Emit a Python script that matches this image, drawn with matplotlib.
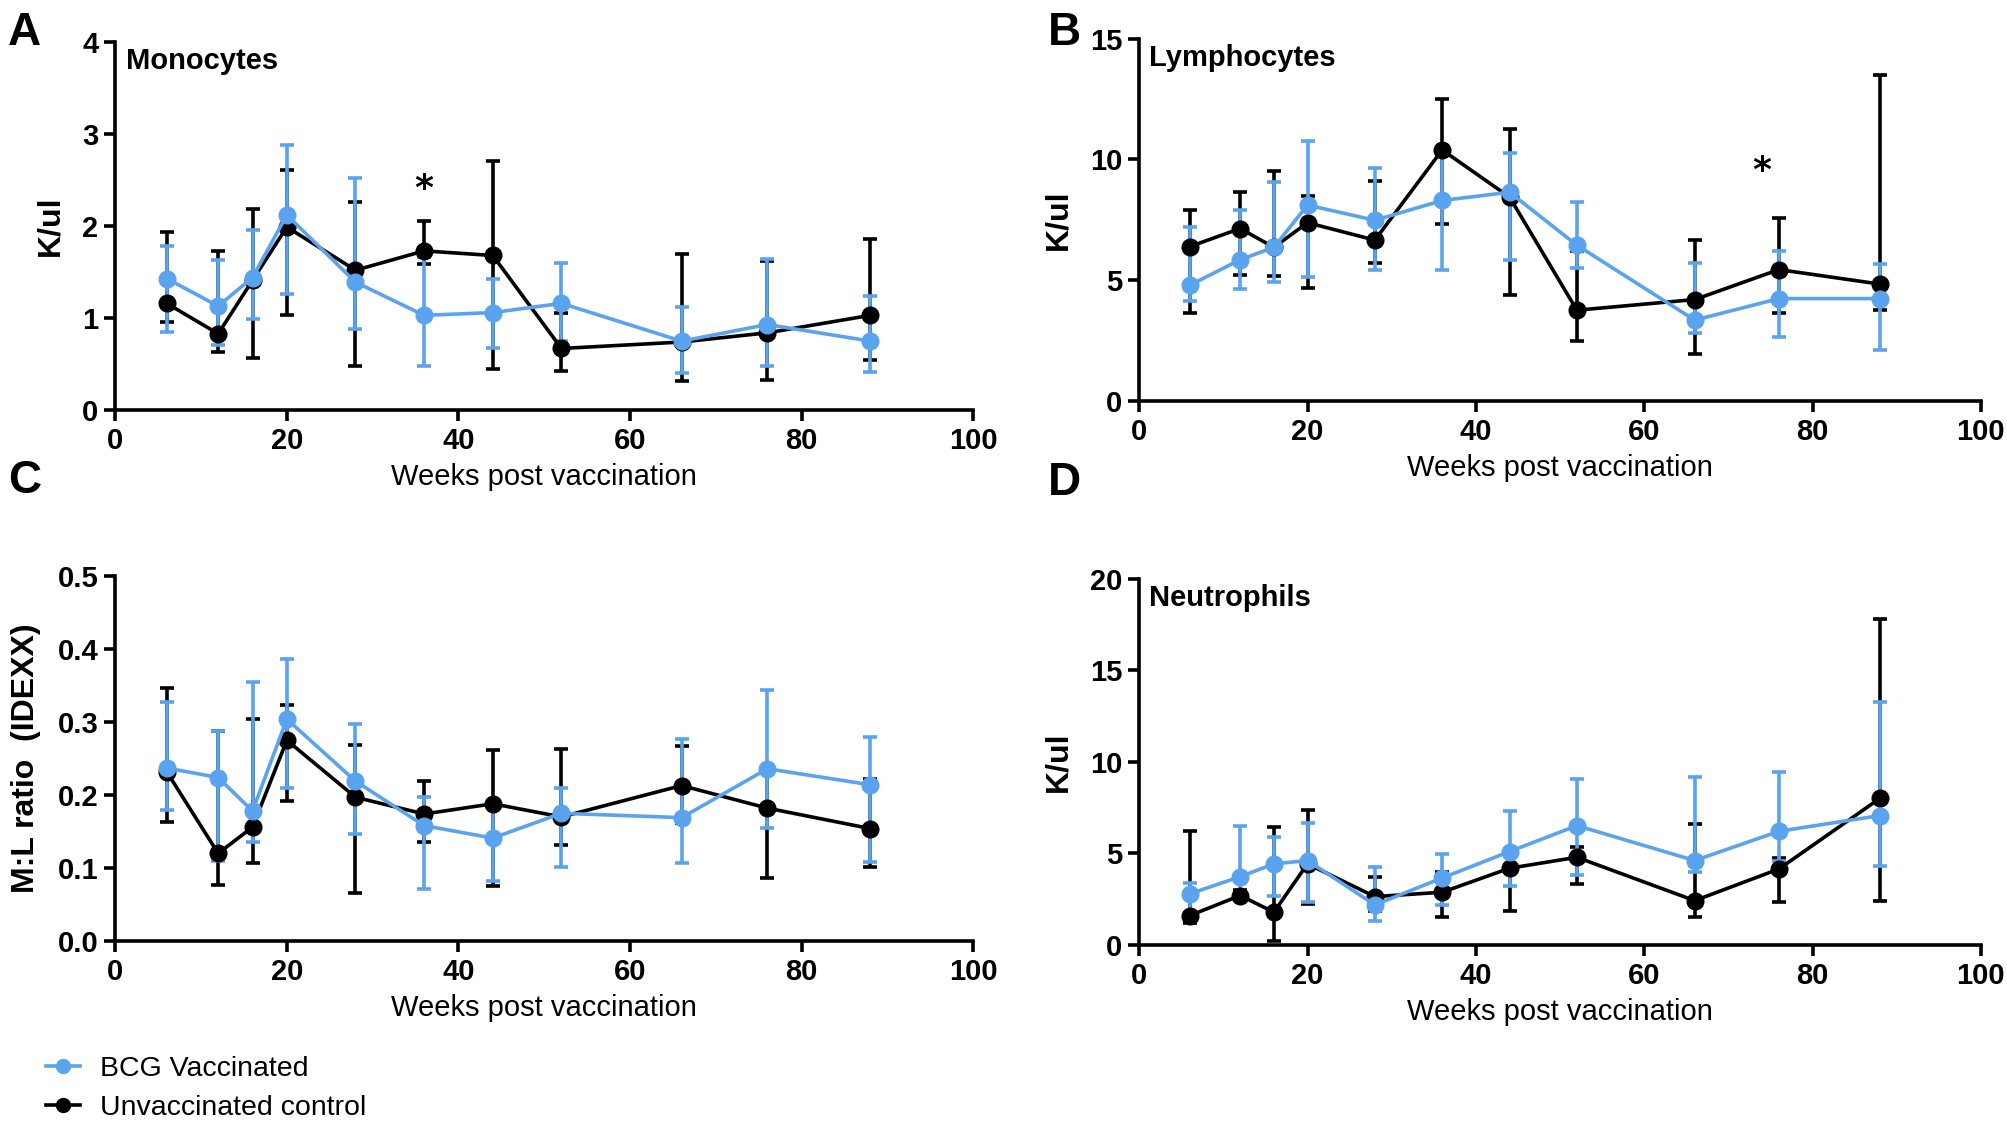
import numpy as np
import matplotlib.pyplot as plt

# weeks post vaccination (same for every panel)
weeks = [6, 12, 16, 20, 28, 36, 44, 52, 66, 76, 88]

# --- A: Monocytes (K/ul) ---
mono_ctrl = [1.16, 0.83, 1.41, 1.99, 1.52, 1.73, 1.68, 0.67, 0.74, 0.84, 1.03]
mono_ctrl_lo = [0.96, 0.63, 0.57, 1.03, 0.48, 1.59, 0.45, 0.43, 0.32, 0.33, 0.55]
mono_ctrl_hi = [1.94, 1.73, 2.18, 2.61, 2.26, 2.06, 2.71, 1.05, 1.70, 1.62, 1.86]
mono_bcg = [1.43, 1.13, 1.44, 2.12, 1.39, 1.03, 1.06, 1.16, 0.75, 0.93, 0.75]
mono_bcg_lo = [0.85, 0.71, 0.99, 1.26, 0.88, 0.48, 0.67, 0.75, 0.40, 0.48, 0.41]
mono_bcg_hi = [1.78, 1.63, 1.96, 2.88, 2.52, 1.66, 1.43, 1.60, 1.12, 1.64, 1.24]

# --- B: Lymphocytes (K/ul) ---
lym_ctrl = [6.39, 7.14, 6.36, 7.38, 6.66, 10.39, 8.44, 3.76, 4.20, 5.44, 4.84]
lym_ctrl_lo = [3.66, 5.20, 5.17, 4.69, 5.72, 7.34, 4.40, 2.49, 1.94, 3.66, 3.76]
lym_ctrl_hi = [7.89, 8.66, 9.50, 8.48, 9.12, 12.48, 11.24, 6.20, 6.67, 7.59, 13.50]
lym_bcg = [4.79, 5.85, 6.36, 8.11, 7.48, 8.30, 8.64, 6.45, 3.35, 4.24, 4.24]
lym_bcg_lo = [4.13, 4.65, 4.92, 5.13, 5.43, 5.44, 5.84, 5.51, 2.80, 2.67, 2.12]
lym_bcg_hi = [7.22, 7.90, 9.05, 10.76, 9.64, 10.40, 10.26, 8.25, 5.72, 6.22, 5.67]

# --- C: M:L ratio ---
ml_ctrl = [0.232, 0.120, 0.156, 0.275, 0.197, 0.174, 0.188, 0.170, 0.213, 0.182, 0.154]
ml_ctrl_lo = [0.163, 0.077, 0.107, 0.192, 0.066, 0.135, 0.075, 0.132, 0.161, 0.086, 0.101]
ml_ctrl_hi = [0.347, 0.288, 0.304, 0.324, 0.269, 0.219, 0.262, 0.263, 0.267, 0.230, 0.222]
ml_bcg = [0.237, 0.224, 0.178, 0.304, 0.219, 0.158, 0.141, 0.175, 0.169, 0.236, 0.214]
ml_bcg_lo = [0.180, 0.109, 0.136, 0.209, 0.146, 0.071, 0.082, 0.101, 0.107, 0.155, 0.108]
ml_bcg_hi = [0.327, 0.288, 0.355, 0.386, 0.297, 0.197, 0.189, 0.210, 0.277, 0.344, 0.279]

# --- D: Neutrophils (K/ul) ---
neu_ctrl = [1.60, 2.70, 1.79, 4.43, 2.64, 2.88, 4.19, 4.79, 2.42, 4.15, 8.01]
neu_ctrl_lo = [1.18, 2.50, 0.24, 2.24, 1.84, 1.51, 1.84, 3.33, 1.51, 2.37, 2.42]
neu_ctrl_hi = [6.25, 3.00, 6.43, 7.38, 3.70, 4.01, 5.25, 5.37, 6.61, 4.74, 17.80]
neu_bcg = [2.79, 3.73, 4.43, 4.61, 2.19, 3.66, 5.10, 6.52, 4.61, 6.21, 7.07]
neu_bcg_lo = [1.73, 2.60, 2.70, 2.33, 1.33, 2.20, 3.24, 3.83, 3.97, 4.61, 4.34]
neu_bcg_hi = [3.39, 6.52, 5.88, 6.65, 4.28, 4.97, 7.30, 9.07, 9.20, 9.47, 13.30]

BLUE = '#5AA3EE'
BLACK = '#000000'
FONT = ['Liberation Sans', 'DejaVu Sans']


def draw_series(ax, y, lo, hi, color):
    y = np.array(y)
    err = [y - np.array(lo), np.array(hi) - y]
    ax.errorbar(weeks, y, yerr=err, color=color, marker='o', markersize=12,
                linewidth=2.6, elinewidth=2.6, capsize=5, capthick=2.6)


def style_axes(ax, yticks, ylabel, yfmt='{:g}'):
    ax.set_xlim(0, 100)
    ax.set_ylim(yticks[0], yticks[-1])
    ax.set_xticks([0, 20, 40, 60, 80, 100])
    ax.set_yticks(yticks)
    ax.set_yticklabels([yfmt.format(t) for t in yticks])
    ax.spines['top'].set_visible(False)
    ax.spines['right'].set_visible(False)
    for s in ['left', 'bottom']:
        ax.spines[s].set_linewidth(2.6)
    ax.tick_params(width=2.6, length=8, direction='out', pad=4)
    for lab in ax.get_xticklabels() + ax.get_yticklabels():
        lab.set_family(FONT)
        lab.set_fontweight('bold')
        lab.set_fontsize(21)
    ax.set_xlabel('Weeks post vaccination', family=FONT, fontsize=21, labelpad=6)
    ax.set_ylabel(ylabel, family=FONT, fontweight='bold', fontsize=23, labelpad=12)


fig = plt.figure(figsize=(20.07, 11.33), dpi=100)
axA = fig.add_axes([0.0574, 0.638, 0.4276, 0.325])
axB = fig.add_axes([0.5676, 0.646, 0.4194, 0.320])
axC = fig.add_axes([0.0574, 0.1695, 0.4276, 0.322])
axD = fig.add_axes([0.5676, 0.166, 0.4194, 0.323])

panels = [
    (axA, mono_ctrl, mono_ctrl_lo, mono_ctrl_hi, mono_bcg, mono_bcg_lo, mono_bcg_hi),
    (axB, lym_ctrl, lym_ctrl_lo, lym_ctrl_hi, lym_bcg, lym_bcg_lo, lym_bcg_hi),
    (axC, ml_ctrl, ml_ctrl_lo, ml_ctrl_hi, ml_bcg, ml_bcg_lo, ml_bcg_hi),
    (axD, neu_ctrl, neu_ctrl_lo, neu_ctrl_hi, neu_bcg, neu_bcg_lo, neu_bcg_hi),
]
for ax, c, clo, chi, b, blo, bhi in panels:
    draw_series(ax, c, clo, chi, BLACK)
    draw_series(ax, b, blo, bhi, BLUE)
    for line in ax.lines:
        line.set_clip_on(False)

style_axes(axA, [0, 1, 2, 3, 4], 'K/ul')
style_axes(axB, [0, 5, 10, 15], 'K/ul')
style_axes(axC, [0.0, 0.1, 0.2, 0.3, 0.4, 0.5], 'M:L ratio  (IDEXX)', '{:.1f}')
style_axes(axD, [0, 5, 10, 15, 20], 'K/ul')

# panel titles
for ax, name in [(axA, 'Monocytes'), (axB, 'Lymphocytes'), (axD, 'Neutrophils')]:
    ax.text(0.012, 0.985, name, transform=ax.transAxes, family=FONT,
            fontweight='bold', fontsize=21, va='top', ha='left')

# significance stars
axA.text(36, 2.4, '*', fontsize=26, ha='center', va='center', fontweight='bold')
axB.text(74, 9.5, '*', fontsize=26, ha='center', va='center', fontweight='bold')

# panel letters
for x, y, l in [(0.004, 0.99, 'A'), (0.522, 0.99, 'B'), (0.004, 0.595, 'C'), (0.522, 0.593, 'D')]:
    fig.text(x, y, l, fontsize=33, fontweight='bold', family=FONT, va='top')

# legend
h1, = axC.plot([], [], color=BLUE, marker='o', markersize=10, linewidth=2.6)
h2, = axC.plot([], [], color=BLACK, marker='o', markersize=10, linewidth=2.6)
fig.legend([h1, h2], ['BCG Vaccinated', 'Unvaccinated control'],
           loc='lower left', bbox_to_anchor=(0.01, -0.012), frameon=False,
           prop={'family': FONT, 'size': 20.5}, handlelength=1.2,
           handletextpad=0.7, labelspacing=0.45)

fig.savefig('out.png', dpi=100)
